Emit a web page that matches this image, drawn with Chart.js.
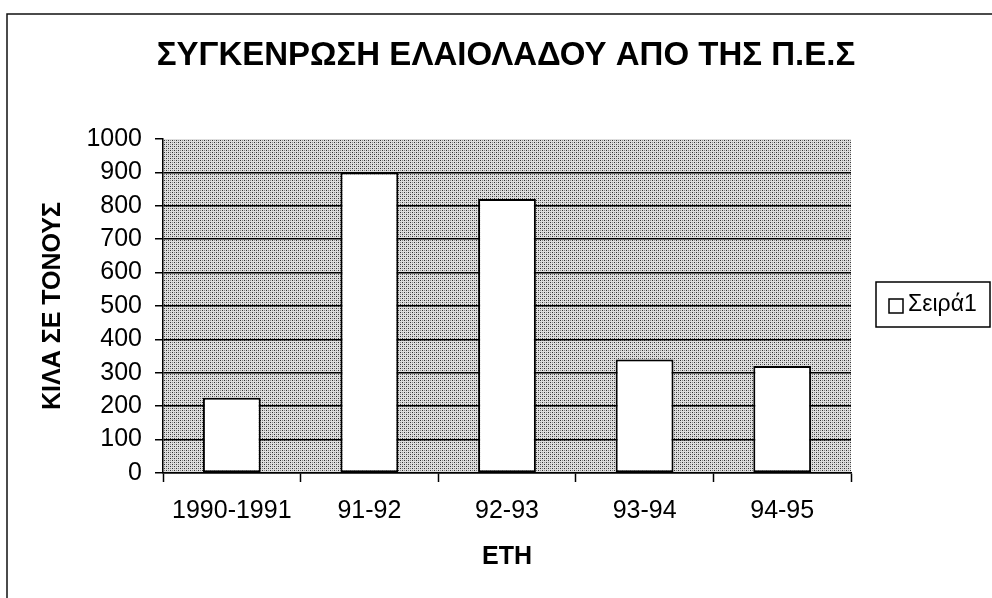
<!DOCTYPE html>
<html>
<head>
<meta charset="utf-8">
<script src="https://cdn.jsdelivr.net/npm/chart.js@4.4.0/dist/chart.umd.min.js"></script>
<style>
html, body { margin: 0; padding: 0; background: #fff; }
#wrap { width: 992px; height: 598px; }
</style>
</head>
<body>
<div id="wrap"><canvas id="oilChart" width="992" height="598"></canvas></div>
<script>
// Data
const categories = ['1990-1991', '91-92', '92-93', '93-94', '94-95'];
const seriesName = 'Σειρά1';
const seriesValues = [225, 900, 820, 340, 320];
const yTicks = [0, 100, 200, 300, 400, 500, 600, 700, 800, 900, 1000];
const chartTitle = 'ΣΥΓΚΕΝΡΩΣΗ ΕΛΑΙΟΛΑΔΟΥ ΑΠΟ ΤΗΣ Π.Ε.Σ';
const yTitle = 'ΚΙΛΑ ΣΕ ΤΟΝΟΥΣ';
const xTitle = 'ΕΤΗ';

const FONT = '"Liberation Sans", Arial, sans-serif';

// dotted grey fill like the old printout
function makePattern() {
    const c = document.createElement('canvas');
    c.width = 4; c.height = 4;
    const g = c.getContext('2d');
    g.fillStyle = '#dedede';
    g.fillRect(0, 0, 4, 4);
    g.fillStyle = '#333';
    g.fillRect(0, 0, 1, 1);
    g.fillRect(2, 2, 1, 1);
    g.fillStyle = '#888';
    g.fillRect(2, 0, 1, 1);
    g.fillRect(0, 2, 1, 1);
    return g.createPattern(c, 'repeat');
}

const framePlugin = {
    id: 'frame',
    beforeDraw(chart) {
        const { ctx, chartArea } = chart;
        ctx.save();
        ctx.fillStyle = makePattern();
        ctx.fillRect(chartArea.left, chartArea.top, chartArea.right - chartArea.left, chartArea.bottom - chartArea.top);
        // outer border of the chart object
        ctx.strokeStyle = '#111';
        ctx.lineWidth = 1.5;
        ctx.beginPath();
        ctx.moveTo(7, 598);
        ctx.lineTo(7, 14);
        ctx.lineTo(992, 14);
        ctx.stroke();
        // title, centred over the whole object
        ctx.fillStyle = '#000';
        ctx.font = 'bold 33px ' + FONT;
        ctx.textAlign = 'center';
        ctx.textBaseline = 'middle';
        ctx.fillText(chartTitle, 506, 56);
        ctx.restore();
    },
    afterDraw(chart) {
        // legend box on the right
        const { ctx } = chart;
        const ds = chart.data.datasets[0];
        ctx.save();
        ctx.strokeStyle = '#000';
        ctx.lineWidth = 1.5;
        ctx.strokeRect(876, 282, 114, 45);
        ctx.fillStyle = ds.backgroundColor;
        ctx.fillRect(889, 299, 14, 14);
        ctx.strokeRect(889, 299, 14, 14);
        ctx.fillStyle = '#000';
        ctx.font = '23px ' + FONT;
        ctx.textBaseline = 'middle';
        ctx.fillText(ds.label, 908, 305);
        ctx.restore();
    }
};

const ctx = document.getElementById('oilChart').getContext('2d');
new Chart(ctx, {
    type: 'bar',
    data: {
        labels: categories,
        datasets: [{
            label: seriesName,
            data: seriesValues,
            backgroundColor: '#ffffff',
            borderColor: '#000000',
            borderWidth: 2,
            borderSkipped: false,
            categoryPercentage: 1,
            barPercentage: 0.42
        }]
    },
    options: {
        responsive: false,
        animation: false,
        devicePixelRatio: 1,
        layout: { padding: { left: 0, right: 141, top: 139, bottom: 0 } },
        plugins: {
            legend: { display: false },
            tooltip: { enabled: false },
            title: { display: false }
        },
        scales: {
            x: {
                offset: true,
                grid: { display: true, drawOnChartArea: false, offset: true, tickLength: 9, tickColor: '#000', tickWidth: 1.5 },
                border: { display: true, color: '#000', width: 1.5 },
                ticks: { color: '#000', font: { family: FONT, size: 25 }, padding: 14, maxRotation: 0 },
                title: { display: true, text: xTitle, color: '#000', font: { family: FONT, size: 25, weight: 'bold' }, padding: { top: 0, bottom: 26 } },
                afterFit(scale) { scale.height = 125; }
            },
            y: {
                min: 0,
                max: 1000,
                afterBuildTicks(axis) { axis.ticks = yTicks.map(v => ({ value: v })); },
                grid: {
                    color: c => (c.tick && c.tick.value === 1000) ? 'rgba(0,0,0,0)' : '#000',
                    lineWidth: 1.5,
                    tickLength: 8,
                    tickColor: '#000',
                    tickWidth: 1.5
                },
                border: { display: true, color: '#000', width: 1.5 },
                ticks: { color: '#000', font: { family: FONT, size: 25 }, padding: 13, callback: v => String(v) },
                title: { display: true, text: yTitle, color: '#000', font: { family: FONT, size: 25, weight: 'bold' }, padding: { top: 38, bottom: 0 } },
                afterFit(scale) { scale.width = 163; }
            }
        }
    },
    plugins: [framePlugin]
});
</script>
</body>
</html>
